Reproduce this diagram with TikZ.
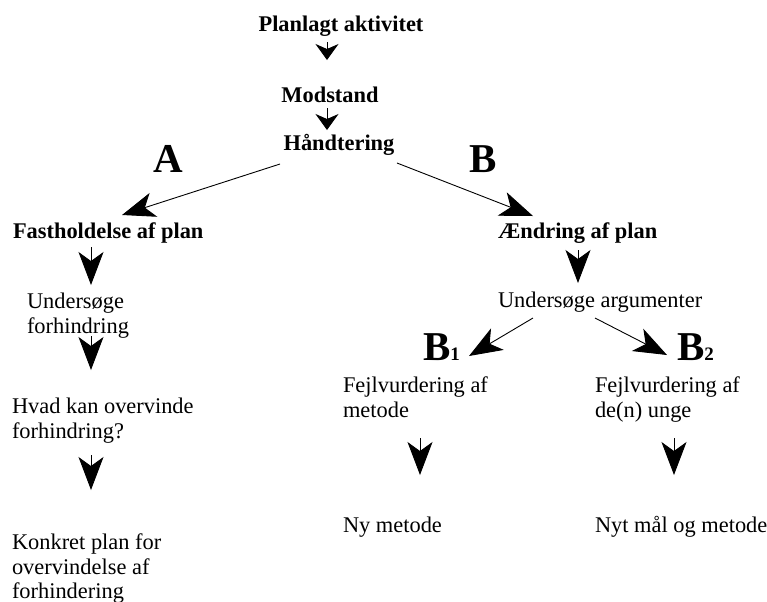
\documentclass[tikz,border=0pt]{standalone}
\usepackage{fontspec}
\setmainfont{Liberation Serif}
\usetikzlibrary{arrows.meta}

\begin{document}
\begin{tikzpicture}[x=0.5pt,y=-0.5pt,
  txt/.style={inner sep=0pt, outer sep=0pt, font=\fontsize{11.2}{12.25}\selectfont},
  boldtxt/.style={txt, font=\bfseries\fontsize{11.2}{12.25}\selectfont},
  multi/.style={txt, align=left, anchor=north west},
  biglabel/.style={inner sep=0pt, outer sep=0pt, font=\bfseries\fontsize{20.5}{22}\selectfont},
  bigarr/.style={line width=0.45pt, -{Stealth[length=16.5pt,width=12.5pt,inset=4.5pt]}},
  smallarr/.style={line width=0.45pt, -{Stealth[length=8pt,width=11.5pt,inset=2.5pt]}}
]
\useasboundingbox (0,0) rectangle (767,601);

% top chain
\node[boldtxt, anchor=base] (pl) at (341,31) {Planlagt aktivitet};
\node[boldtxt, anchor=base] (md) at (330,102) {Modstand};
\node[boldtxt, anchor=base] (hd) at (339,150) {Håndtering};

% branch labels
\node[biglabel, anchor=base] (la) at (168,172) {A};
\node[biglabel, anchor=base] (lb) at (483,172) {B};

% branch A
\node[boldtxt, anchor=base west] (fh) at (13,238) {Fastholdelse af plan};
\node[multi] (us1) at (27,293) {Undersøge\\forhindring};
\node[multi] (hk) at (12,398) {Hvad kan overvinde\\forhindring?};
\node[multi] (kp) at (12,534) {Konkret plan for\\overvindelse af\\forhindering};

% branch B
\node[boldtxt, anchor=base west] (ae) at (498,238) {Ændring af plan};
\node[txt, anchor=base west] (ua) at (498,307) {Undersøge argumenter};
\node[biglabel, anchor=base west] (lb1) at (423,360) {B{\fontsize{9.5}{10}\selectfont 1}};
\node[biglabel, anchor=base west] (lb2) at (677,360) {B{\fontsize{9.5}{10}\selectfont 2}};
\node[multi] (fm) at (343,377) {Fejlvurdering af\\metode};
\node[multi] (fu) at (595,377) {Fejlvurdering af\\de(n) unge};
\node[txt, anchor=base west] (nm) at (343,532) {Ny metode};
\node[txt, anchor=base west] (nt) at (595,532) {Nyt mål og metode};

% connectors of the top chain
\draw[smallarr] ([xshift=-7pt,yshift=-5.5pt]pl.base) -- ([xshift=-1.5pt,yshift=21pt]md.base);
\draw[smallarr] ([xshift=-1.5pt,yshift=-3pt]md.base) -- ([xshift=-6pt,yshift=10pt]hd.base);

% the two branches
\draw[bigarr] ([xshift=-1.8pt,yshift=-7pt]hd.base west) -- ([xshift=54.5pt,yshift=11.5pt]fh.base west);
\draw[bigarr] ([xshift=1.3pt,yshift=-6.5pt]hd.base east) -- ([xshift=17.5pt,yshift=11pt]ae.base west);

% branch A chain
\draw[bigarr] ([xshift=39pt,yshift=-4.5pt]fh.base west) -- ([xshift=32pt,yshift=4pt]us1.north west);
\draw[bigarr] ([xshift=32pt,yshift=-21.5pt]us1.north west) -- ([xshift=39.5pt,yshift=14pt]hk.north west);
\draw[bigarr] ([xshift=39.5pt,yshift=-28.5pt]hk.north west) -- ([xshift=39.5pt,yshift=22pt]kp.north west);

% branch B chain
\draw[bigarr] ([xshift=40pt,yshift=-6pt]ae.base west) -- ([xshift=40pt,yshift=12pt]ua.base west);
\draw[bigarr] ([xshift=17.5pt,yshift=-5.5pt]ua.base west) -- ([xshift=23pt,yshift=2pt]lb1.base west);
\draw[bigarr] ([xshift=48.5pt,yshift=-5.5pt]ua.base west) -- ([xshift=-5pt,yshift=2.5pt]lb2.base west);
\draw[bigarr] ([xshift=38.5pt,yshift=-30.5pt]fm.north west) -- ([xshift=38.5pt,yshift=28.5pt]nm.base west);
\draw[bigarr] ([xshift=39.5pt,yshift=-30.5pt]fu.north west) -- ([xshift=39.5pt,yshift=28.5pt]nt.base west);
\end{tikzpicture}
\end{document}
